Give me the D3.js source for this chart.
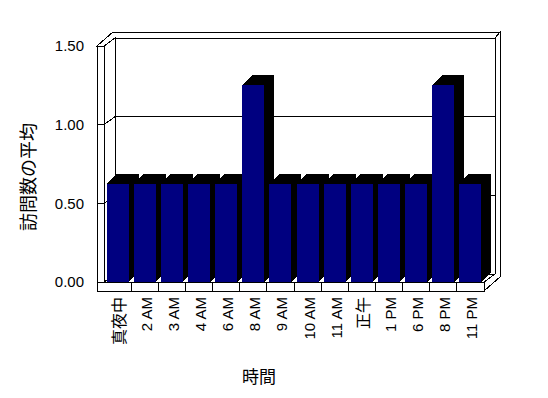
<!DOCTYPE html>
<html>
<head>
<meta charset="utf-8">
<script src="https://cdn.jsdelivr.net/npm/d3@7"></script>
<style>
  body { margin: 0; background: #fff; }
  text { font-family: "Liberation Sans", Arial, "Noto Sans CJK JP", sans-serif; fill: #000; }
</style>
</head>
<body>
<div id="chart"></div>
<script>
// data
var categories = ["真夜中", "2 AM", "3 AM", "4 AM", "6 AM", "8 AM", "9 AM", "10 AM", "11 AM", "正午", "1 PM", "6 PM", "8 PM", "11 PM"];
var values = [0.625, 0.625, 0.625, 0.625, 0.625, 1.25, 0.625, 0.625, 0.625, 0.625, 0.625, 0.625, 1.25, 0.625];
var yTicks = [0, 0.5, 1.0, 1.5];
var yTickLabels = ["0.00", "0.50", "1.00", "1.50"];
var yTitle = "訪問数の平均";
var xTitle = "時間";

var width = 548, height = 398;

// front plane of the 3d box
var x0o = 97, x0 = 104, x1 = 484;
var d1 = [11, -8];   // inner back plane offset
var d2 = [16, -14];  // outer back plane offset
var db = [10, -10];  // bar depth offset
var floorThick = 9;

var y = d3.scaleLinear().domain([0, 1.5]).range([282, 46]);
var x = d3.scaleBand().domain(categories).range([x0, x1])
    .paddingInner(0.19).paddingOuter(0.1);

var yTop = y(1.5), yFloor = y(0), yFloorB = yFloor + floorThick;

var svg = d3.select("#chart").append("svg")
    .attr("width", width)
    .attr("height", height)
    .style("background-color", "#fff");

function poly(pts) { return "M" + pts.map(p => p.join(",")).join("L") + "Z"; }

var box = svg.append("g")
    .attr("fill", "#fff")
    .attr("stroke", "#000")
    .attr("stroke-width", 1)
    .attr("shape-rendering", "crispEdges");

// back wall front face
box.append("path").attr("d", poly([
    [x0 + d1[0], yTop + d1[1]], [x1 + d1[0], yTop + d1[1]],
    [x1 + d1[0], yFloor + d1[1]], [x0 + d1[0], yFloor + d1[1]]]));
// top faces of left and back wall
box.append("path").attr("d", poly([
    [x0o, yTop], [x0, yTop], [x0 + d1[0], yTop + d1[1]], [x1 + d1[0], yTop + d1[1]],
    [x1 + d2[0], yTop + d2[1]], [x0o + d2[0], yTop + d2[1]]]));
// right side of back wall and floor
box.append("path").attr("d", poly([
    [x1, yFloor], [x1 + d1[0], yFloor + d1[1]], [x1 + d1[0], yTop + d1[1]],
    [x1 + d2[0], yTop + d2[1]], [x1 + d2[0], yFloorB + d2[1]], [x1, yFloorB]]));
// inner face of left wall
box.append("path").attr("d", poly([
    [x0, yTop], [x0 + d1[0], yTop + d1[1]], [x0 + d1[0], yFloor + d1[1]], [x0, yFloor]]));
// floor top
box.append("path").attr("d", poly([
    [x0, yFloor], [x1, yFloor], [x1 + d1[0], yFloor + d1[1]], [x0 + d1[0], yFloor + d1[1]]]));
// left wall front face
box.append("rect").attr("x", x0o).attr("y", yTop).attr("width", x0 - x0o).attr("height", yFloor - yTop);
// floor front face
box.append("rect").attr("x", x0o).attr("y", yFloor).attr("width", x1 - x0o).attr("height", floorThick);

// category dividers on the floor front
box.selectAll("line.div")
    .data(categories.slice(1))
    .enter().append("line")
    .attr("class", "div")
    .attr("x1", d => x(d) - x.step() * x.paddingInner() / 2)
    .attr("x2", d => x(d) - x.step() * x.paddingInner() / 2)
    .attr("y1", yFloor).attr("y2", yFloorB);

// gridlines across left wall and back wall
var grid = svg.append("g")
    .attr("fill", "none")
    .attr("stroke", "#000")
    .attr("shape-rendering", "crispEdges");
grid.selectAll("path")
    .data(yTicks.filter(v => v > 0 && v < 1.5))
    .enter().append("path")
    .attr("d", v => "M" + x0o + "," + y(v) + "L" + x0 + "," + y(v) +
        "L" + (x0 + d1[0]) + "," + (y(v) + d1[1]) + "L" + (x1 + d1[0]) + "," + (y(v) + d1[1]));

// bars
var bars = svg.append("g").attr("shape-rendering", "crispEdges");
var bw = x.bandwidth();
categories.forEach(function (c, i) {
    var bx = x(c), by = y(values[i]);
    var g = bars.append("g");
    g.append("path")   // side
        .attr("fill", "#000")
        .attr("d", poly([[bx + bw, by], [bx + bw + db[0], by + db[1]],
            [bx + bw + db[0], yFloor + db[1]], [bx + bw, yFloor]]));
    g.append("path")   // top
        .attr("fill", "#000")
        .attr("d", poly([[bx, by], [bx + db[0], by + db[1]],
            [bx + bw + db[0], by + db[1]], [bx + bw, by]]));
    g.append("rect")   // front
        .attr("x", bx).attr("y", by)
        .attr("width", bw).attr("height", yFloor - by)
        .attr("fill", "#000080");
});

// y tick labels
svg.append("g").selectAll("text")
    .data(yTicks)
    .enter().append("text")
    .attr("x", 84)
    .attr("y", d => y(d))
    .attr("dy", "0.36em")
    .attr("text-anchor", "end")
    .attr("font-size", 15)
    .text((d, i) => yTickLabels[i]);

// x tick labels (rotated); the kanji ones run a bit larger in the reference
svg.append("g").selectAll("text")
    .data(categories)
    .enter().append("text")
    .attr("transform", d => "translate(" + (x(d) + x.step() / 2 - 1) + "," + 297 + ") rotate(-90)")
    .attr("dy", "0.36em")
    .attr("text-anchor", "end")
    .attr("font-size", d => /[^\x00-\x7f]/.test(d) ? 16 : 15)
    .text(d => d);

// axis titles
svg.append("text")
    .attr("transform", "translate(29,177) rotate(-90)")
    .attr("dy", "0.36em")
    .attr("text-anchor", "middle")
    .attr("font-size", 18)
    .text(yTitle);

svg.append("text")
    .attr("x", 259)
    .attr("y", 377)
    .attr("dy", "0.36em")
    .attr("text-anchor", "middle")
    .attr("font-size", 17)
    .text(xTitle);
</script>
</body>
</html>
